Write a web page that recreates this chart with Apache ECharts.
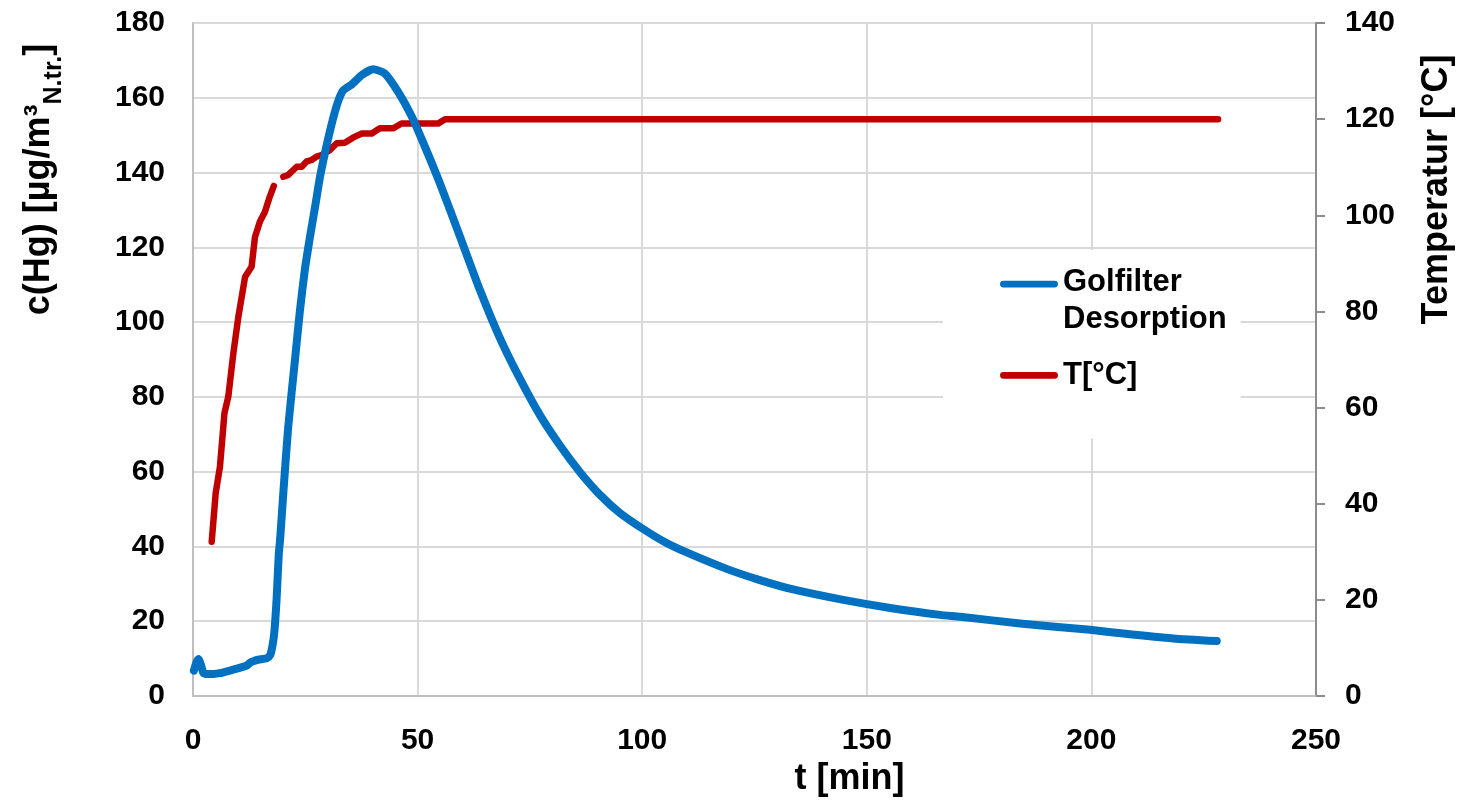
<!DOCTYPE html>
<html>
<head>
<meta charset="utf-8">
<script src="https://cdn.jsdelivr.net/npm/echarts@6/dist/echarts.min.js"></script>
<style>
html,body{margin:0;padding:0;background:#fff;}
#chart{width:1466px;height:812px;}
</style>
</head>
<body>
<div id="chart"></div>
<script>
// Golfilter Desorption: time [min] and c(Hg)
const blueT = [0.2,0.7,1.2,1.8,2.3,3.0,4.5,6.0,8.2,10.0,11.9,12.8,13.4,14.5,16.4,17.2,17.7,18.1,18.6,19.1,19.4,20.1,21.2,22.7,23.8,24.9,26.0,27.2,28.3,29.7,31.2,32.3,33.3,34.2,35.3,37.6,40.1,42.7,45.7,48.7,51.6,55.0,59.4,63.9,68.3,72.8,77.2,81.7,86.2,90.6,95.0,100.3,105.0,109.9,118.8,126.2,133.6,144.8,155.9,166.3,170.8,184.1,199.7,207.1,218.2,227.9];
const blueC = [6.8,8.8,9.9,8.2,6.2,5.9,5.9,6.1,6.8,7.4,8.1,9.0,9.3,9.7,10.1,11.0,13.5,17.0,25.7,38.0,42.0,54.2,72.0,89.9,103.0,114.0,122.5,131.0,139.0,147.0,154.5,159.0,161.8,162.7,163.5,166.1,167.6,166.5,161.5,155.0,147.0,137.0,123.0,108.5,95.8,84.8,75.2,67.0,59.8,53.8,49.0,44.6,41.2,38.4,34.0,31.0,28.5,25.7,23.4,21.7,21.2,19.4,17.7,16.7,15.4,14.7];
// Temperature: time [min] and T [°C] ('-' = gap in the record)
const redT = [4.16,5.05,6.0,7.0,7.86,8.98,10.1,11.6,13.05,13.8,14.9,16.0,17.1,18.0,19.0,20.1,21.2,23.1,24.2,25.3,26.4,27.5,28.6,30.5,32.0,33.8,35.7,37.6,39.8,41.6,44.6,46.4,54.6,56.1,228.2];
const redV = [32.1,42.2,47.7,58.8,62.3,71.3,78.9,87.2,89.3,95.5,98.7,100.7,103.9,106.1,'-',108.0,108.4,110.1,110.1,111.2,111.5,112.2,112.5,113.6,115.0,115.1,116.2,117.0,117.0,118.1,118.1,119.1,119.1,120.0,120.0];
const seriesNames = ['Golfilter\nDesorption', 'T[°C]'];
const xTicks = {min: 0, max: 250, interval: 50};
const yLeftTicks = {min: 0, max: 180, interval: 20};
const yRightTicks = {min: 0, max: 140, interval: 20};

const blueData = blueT.map((t, i) => [t, blueC[i]]);
const redData = redT.map((t, i) => [t, redV[i]]);

const FONT = '"Liberation Sans", Arial, sans-serif';
const BLUE = '#0070C0', RED = '#C00000';

const chart = echarts.init(document.getElementById('chart'), null, {renderer: 'canvas'});
chart.setOption({
  animation: false,
  backgroundColor: '#ffffff',
  textStyle: {fontFamily: FONT},
  grid: {left: 193, right: 150, top: 23, bottom: 116, containLabel: false},
  legend: {
    orient: 'vertical',
    left: 943, top: 250,
    padding: [14, 14, 43, 57],
    itemGap: 17,
    itemWidth: 58, itemHeight: 42,
    backgroundColor: '#ffffff',
    selectedMode: false,
    textStyle: {fontFamily: FONT, fontWeight: 'bold', fontSize: 31, color: '#000', lineHeight: 37},
    data: [
      {name: seriesNames[0], icon: 'path://M3.5,0H56.5A3.5,3.5,0,0,1,56.5,7H3.5A3.5,3.5,0,0,1,3.5,0Z M59.99,41.99H60V42H59.99Z M0,0H0.01V0.01H0Z', itemStyle: {color: BLUE, borderWidth: 0}},
      {name: seriesNames[1], icon: 'path://M3.5,17.5H56.5A3.5,3.5,0,0,1,56.5,24.5H3.5A3.5,3.5,0,0,1,3.5,17.5Z M0,0H0.01V0.01H0Z M59.99,41.99H60V42H59.99Z', itemStyle: {color: RED, borderWidth: 0}}
    ]
  },
  xAxis: {
    type: 'value', min: xTicks.min, max: xTicks.max, interval: xTicks.interval,
    name: 't [min]', nameLocation: 'middle', nameGap: 64,
    nameTextStyle: {fontFamily: FONT, fontWeight: 'bold', fontSize: 36, color: '#000', padding: [0, 0, 0, 190]},
    axisLine: {show: true, lineStyle: {color: '#BFBFBF', width: 2}},
    axisTick: {show: false},
    axisLabel: {margin: 30, fontFamily: FONT, fontWeight: 'bold', fontSize: 30, color: '#000'},
    splitLine: {show: true, lineStyle: {color: '#D9D9D9', width: 2}}
  },
  yAxis: [
    {
      type: 'value', min: yLeftTicks.min, max: yLeftTicks.max, interval: yLeftTicks.interval,
      name: 'c(Hg) [µg/m³{sub|N.tr.}]', nameLocation: 'middle', nameRotate: 90, nameGap: 136,
      nameTextStyle: {fontFamily: FONT, fontWeight: 'bold', fontSize: 36, color: '#000', padding: [0, 0, 0, 360],
        rich: {sub: {fontFamily: FONT, fontWeight: 'bold', fontSize: 25, color: '#000', verticalAlign: 'bottom', padding: [0, 0, -10, 0]}}},
      axisLine: {show: true, lineStyle: {color: '#BFBFBF', width: 2}},
      axisTick: {show: false},
      axisLabel: {margin: 28, fontFamily: FONT, fontWeight: 'bold', fontSize: 30, color: '#000'},
      splitLine: {show: true, lineStyle: {color: '#D9D9D9', width: 2}}
    },
    {
      type: 'value', min: yRightTicks.min, max: yRightTicks.max, interval: yRightTicks.interval,
      position: 'right',
      name: 'Temperatur [°C]', nameLocation: 'middle', nameRotate: 90, nameGap: 103,
      nameTextStyle: {fontFamily: FONT, fontWeight: 'bold', fontSize: 36, color: '#000', padding: [0, 0, 0, 340]},
      axisLine: {show: true, lineStyle: {color: '#8C8C8C', width: 2}},
      axisTick: {show: true, inside: false, length: 9, lineStyle: {color: '#8C8C8C', width: 2}},
      axisLabel: {margin: 29, fontFamily: FONT, fontWeight: 'bold', fontSize: 30, color: '#000'},
      splitLine: {show: false}
    }
  ],
  series: [
    {
      name: seriesNames[0], type: 'line', yAxisIndex: 0, data: blueData,
      showSymbol: false, symbol: 'none', smooth: 0.2,
      lineStyle: {color: BLUE, width: 8, cap: 'round', join: 'round'},
      itemStyle: {color: BLUE}, z: 3
    },
    {
      name: seriesNames[1], type: 'line', yAxisIndex: 1, data: redData,
      showSymbol: false, symbol: 'none', connectNulls: false,
      lineStyle: {color: RED, width: 6.5, cap: 'round', join: 'round'},
      itemStyle: {color: RED}, z: 2
    }
  ]
});
</script>
</body>
</html>
